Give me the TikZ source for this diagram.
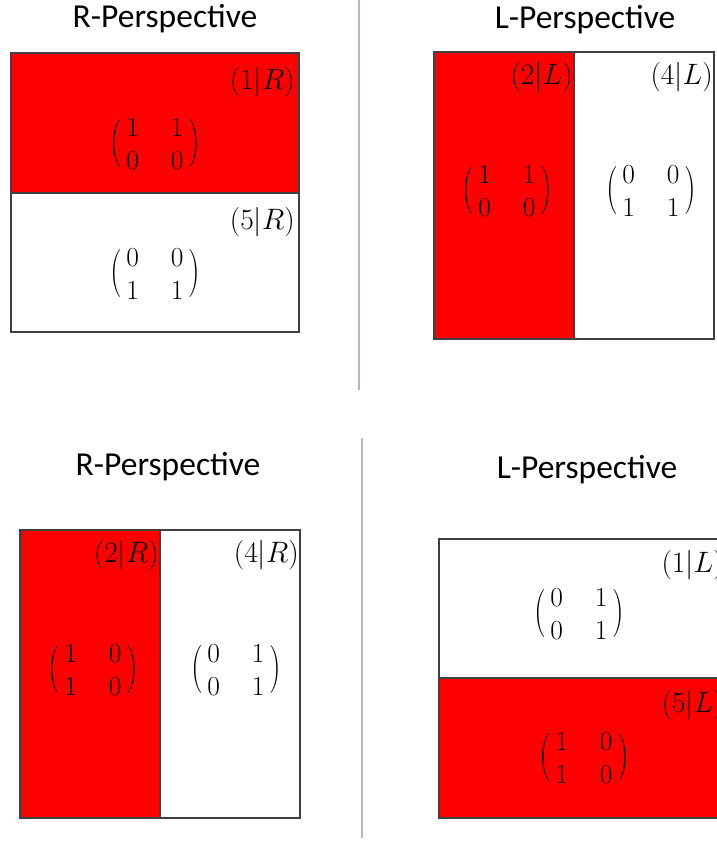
\RequirePackage{fix-cm}
\documentclass[tikz,border=0pt]{standalone}
\usepackage{fontspec}
\usepackage{graphicx}
\newfontfamily\titlefont{Carlito}
\definecolor{boxgray}{HTML}{404040}
\definecolor{sepgray}{HTML}{B4B8BC}
\definecolor{cellred}{HTML}{FF0000}
\newcommand{\bigparen}[1]{\mathord{\raisebox{3pt}{$\vcenter{\hbox{\scalebox{1.2}[1.75]{#1}}}$}}}
\newcommand{\mymat}[4]{$\bigparen{(}\mkern3mu\begin{array}{@{}c@{\hspace{32pt}}c@{}}#1&#2\\#3&#4\end{array}\mkern3mu\bigparen{)}$}
\begin{document}
\begin{tikzpicture}[x=1pt,y=-1pt,
  ttl/.style={font=\titlefont\fontsize{33.5}{40}\selectfont, anchor=base, inner sep=0pt},
  lab/.style={font=\fontsize{29.5}{33}\selectfont, anchor=base east, inner sep=0pt},
  mat/.style={font=\fontsize{27.5}{33}\selectfont, inner sep=0pt},
  redcell/.style={fill=cellred, draw=boxgray, line width=1.1pt},
  whitecell/.style={fill=white, draw=boxgray, line width=1.1pt},
  sep/.style={draw=sepgray, line width=1.3pt}]
\useasboundingbox (0,0) rectangle (717,841);
\clip (0,0) rectangle (717,841);

% separators
\coordinate (s1a) at (359,0);
\coordinate (s1b) at (359,390);
\coordinate (s2a) at (362,438);
\coordinate (s2b) at (362,838);
\draw[sep] (s1a) -- (s1b);
\draw[sep] (s2a) -- (s2b);

% ---- panel 1: R-Perspective (top left)
\node[ttl] (t1) at (165,27) {R-Perspective};
\draw[redcell] (11,53) rectangle (299,193);
\draw[whitecell] (11,193) rectangle (299,332);
\node[lab] (l1a) at (295,89.5) {$(1|R)$};
\node[mat] (m1a) at (155,146.5) {\mymat{1}{1}{0}{0}};
\node[lab] (l1b) at (295,229.5) {$(5|R)$};
\node[mat] (m1b) at (155,276) {\mymat{0}{0}{1}{1}};

% ---- panel 2: L-Perspective (top right)
\node[ttl] (t2) at (585,28) {L-Perspective};
\draw[redcell] (434,52) rectangle (574,339);
\draw[whitecell] (574,52) rectangle (714,339);
\node[lab] (l2a) at (573,84.5) {$(2|L)$};
\node[lab] (l2b) at (713,84.5) {$(4|L)$};
\node[mat] (m2a) at (507,193) {\mymat{1}{1}{0}{0}};
\node[mat] (m2b) at (651,193) {\mymat{0}{0}{1}{1}};

% ---- panel 3: R-Perspective (bottom left)
\node[ttl] (t3) at (168,475) {R-Perspective};
\draw[redcell] (20,530) rectangle (160,818);
\draw[whitecell] (160,530) rectangle (300,818);
\node[lab] (l3a) at (159,562.5) {$(2|R)$};
\node[lab] (l3b) at (299,562.5) {$(4|R)$};
\node[mat] (m3a) at (93,672) {\mymat{1}{0}{1}{0}};
\node[mat] (m3b) at (236,672) {\mymat{0}{1}{0}{1}};

% ---- panel 4: L-Perspective (bottom right)
\node[ttl] (t4) at (587,478) {L-Perspective};
\draw[whitecell] (439,539) rectangle (722,678);
\draw[redcell] (439,678) rectangle (722,818);
\node[lab] (l4a) at (724,572.5) {$(1|L)$};
\node[lab] (l4b) at (724,712.5) {$(5|L)$};
\node[mat] (m4a) at (579,616) {\mymat{0}{1}{0}{1}};
\node[mat] (m4b) at (584,760) {\mymat{1}{0}{1}{0}};
\end{tikzpicture}
\end{document}
